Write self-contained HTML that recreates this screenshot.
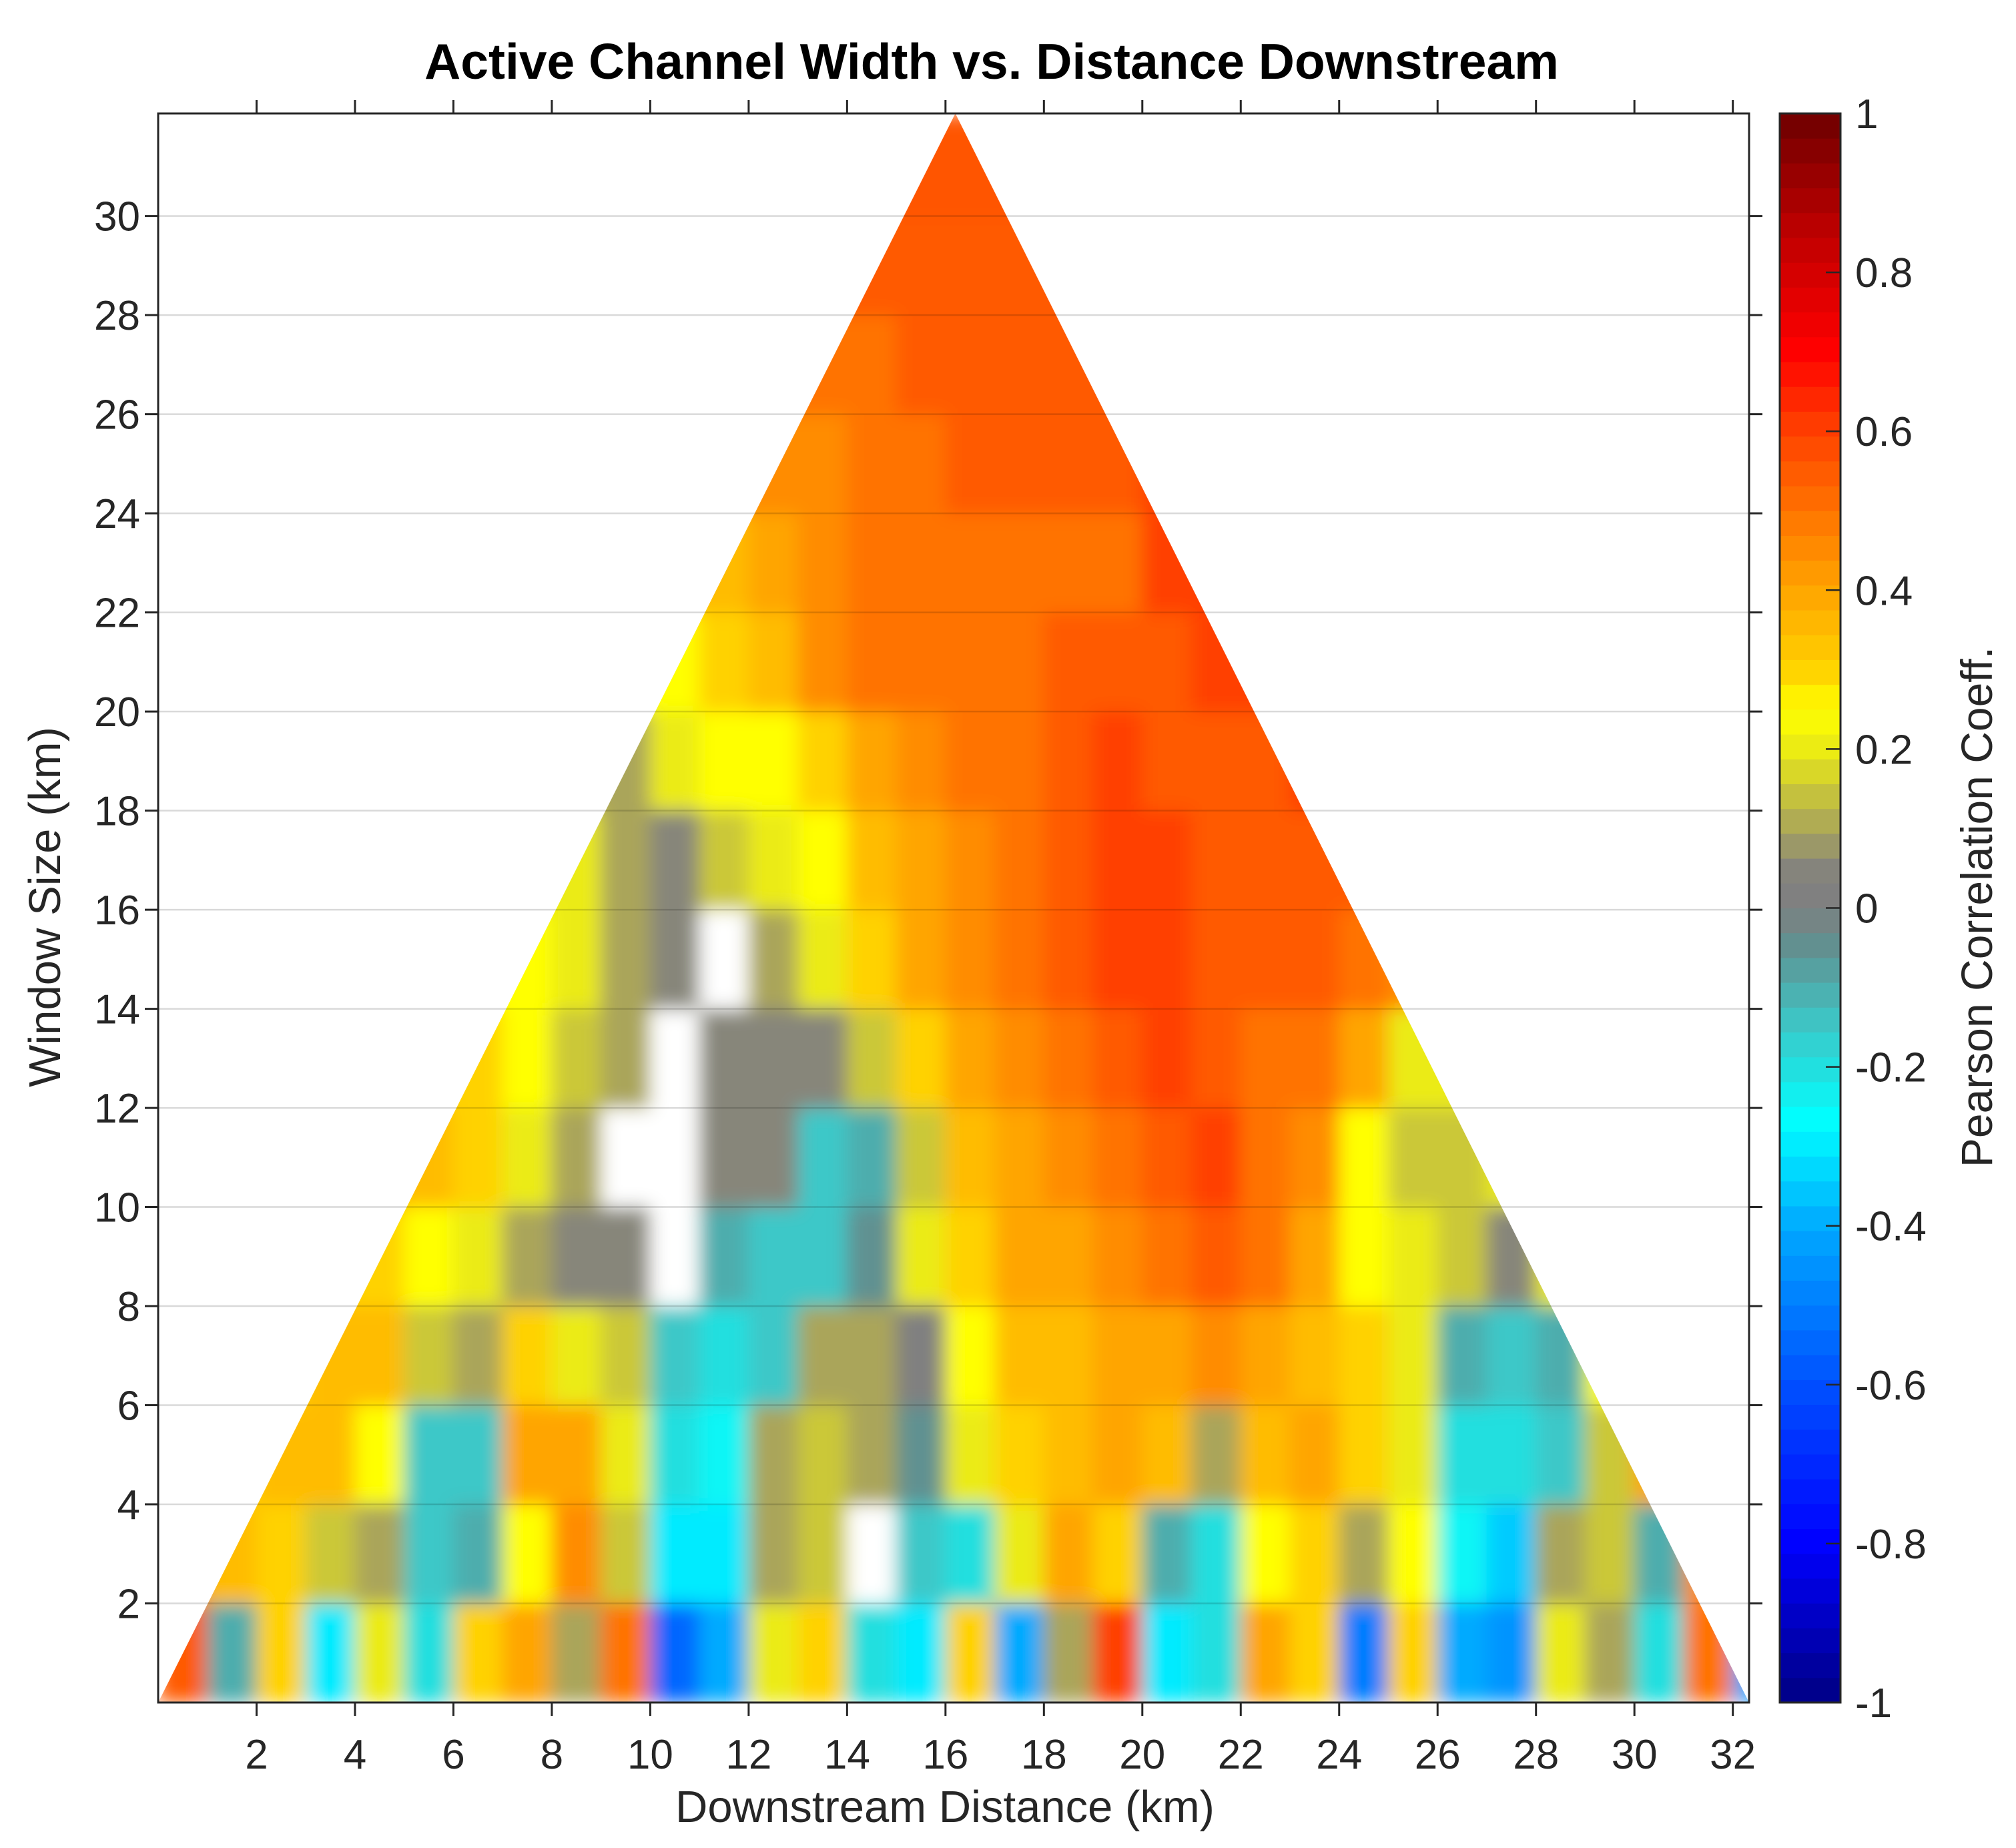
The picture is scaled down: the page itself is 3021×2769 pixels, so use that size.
<!DOCTYPE html>
<html><head><meta charset="utf-8"><style>
html,body{margin:0;padding:0;background:#fff}
svg{display:block}
text{font-family:"Liberation Sans",Arial,sans-serif;fill:#262626}
</style></head><body>
<svg id="chart" width="3021" height="2769" viewBox="0 0 3021 2769" xmlns="http://www.w3.org/2000/svg">
<defs>
<clipPath id="tri"><polygon id="tripoly" points="0,0"/></clipPath>
<filter id="soft" x="-5%" y="-5%" width="110%" height="110%"><feGaussianBlur stdDeviation="14"/></filter>
</defs>
<g id="heat" clip-path="url(#tri)"><g id="cells" filter="url(#soft)"></g></g>
<g id="grid"></g>
<g id="axes"></g>
<g id="cbar"></g>
<text x="1486" y="118" text-anchor="middle" font-size="75" font-weight="bold" style="fill:#000">Active Channel Width vs. Distance Downstream</text>
<text x="1416" y="2730" text-anchor="middle" font-size="67">Downstream Distance (km)</text>
<text transform="translate(90,1359) rotate(-90)" text-anchor="middle" font-size="67">Window Size (km)</text>
<text transform="translate(2985,1359) rotate(-90)" text-anchor="middle" font-size="66">Pearson Correlation Coeff.</text>
</svg>
<script>
const xTicks=[2,4,6,8,10,12,14,16,18,20,22,24,26,28,30,32];
const yTicks=[2,4,6,8,10,12,14,16,18,20,22,24,26,28,30];
const cbTicks=[1,0.8,0.6,0.4,0.2,0,-0.2,-0.4,-0.6,-0.8,-1];
const cbLabels=["1","0.8","0.6","0.4","0.2","0","-0.2","-0.4","-0.6","-0.8","-1"];
const rowBottoms=[0,2,4,6,8,10,12,14,16,18,20,22,24,26,28,30];
const N=null;
const row0=[0.55,-0.1,0.3,-0.3,0.2,-0.2,0.3,0.4,0.1,0.5,-0.55,-0.4,0.2,0.3,-0.2,-0.3,0.3,-0.4,0.1,0.6,-0.3,-0.2,0.4,0.3,-0.5,0.3,-0.4,-0.45,0.2,0.1,-0.2,0.5,-0.4];
const row1=[0.4,0.35,0.3,0.15,0.1,-0.15,-0.1,0.25,0.45,0.15,-0.3,-0.3,0.1,0.15,N,-0.15,-0.2,0.2,0.4,0.3,-0.1,-0.2,0.25,0.3,0.1,0.25,-0.25,-0.35,0.1,0.15,-0.1,0.45,0.5];
const row2=[0.3,0.3,0.35,0.35,0.25,-0.15,-0.15,0.4,0.4,0.2,-0.2,-0.25,0.1,0.15,0.1,-0.05,0.2,0.3,0.35,0.4,0.35,0.1,0.35,0.4,0.3,0.2,-0.2,-0.2,-0.15,0.15,0.4,0.4,0.4];
const row3=[0.3,0.3,0.3,0.35,0.35,0.15,0.1,0.3,0.2,0.15,-0.15,-0.2,-0.15,0.1,0.1,0.0,0.25,0.35,0.35,0.4,0.4,0.45,0.4,0.35,0.3,0.2,-0.1,-0.15,-0.1,0.25,0.3,0.3,0.3];
const row4=[0.3,0.3,0.3,0.3,0.3,0.25,0.2,0.1,0.05,0.05,N,-0.1,-0.15,-0.15,-0.05,0.2,0.3,0.4,0.4,0.45,0.5,0.55,0.5,0.4,0.25,0.2,0.15,0.05,0.2,0.2,0.2,0.2,0.2];
const row5=[0.35,0.35,0.35,0.35,0.35,0.35,0.3,0.2,0.1,N,N,0.05,0.05,-0.15,-0.1,0.15,0.35,0.4,0.45,0.5,0.55,0.6,0.5,0.45,0.25,0.15,0.15,0.2,0.2,0.2,0.2,0.2,0.2];
const row6=[0.3,0.3,0.3,0.3,0.3,0.3,0.3,0.25,0.15,0.1,N,0.05,0.05,0.05,0.15,0.3,0.4,0.45,0.5,0.55,0.6,0.55,0.5,0.5,0.4,0.2,0.2,0.2,0.2,0.2,0.2,0.2,0.2];
const row7=[0.25,0.25,0.25,0.25,0.25,0.25,0.25,0.25,0.2,0.1,0.05,N,0.1,0.2,0.3,0.4,0.45,0.5,0.55,0.6,0.6,0.55,0.55,0.55,0.5,0.45,0.45,0.45,0.45,0.45,0.45,0.45,0.45];
const row8=[0.2,0.2,0.2,0.2,0.2,0.2,0.2,0.2,0.2,0.1,0.05,0.15,0.2,0.25,0.35,0.4,0.45,0.5,0.55,0.6,0.6,0.55,0.55,0.55,0.55,0.55,0.55,0.55,0.55,0.55,0.55,0.55,0.55];
const row9=[0.1,0.1,0.1,0.1,0.1,0.1,0.1,0.1,0.1,0.1,0.2,0.25,0.25,0.3,0.4,0.45,0.5,0.5,0.55,0.6,0.55,0.55,0.55,0.6,0.6,0.6,0.6,0.6,0.6,0.6,0.6,0.6,0.6];
const row10=[0.25,0.25,0.25,0.25,0.25,0.25,0.25,0.25,0.25,0.25,0.25,0.3,0.35,0.45,0.5,0.5,0.5,0.5,0.55,0.55,0.55,0.6,0.6,0.6,0.6,0.6,0.6,0.6,0.6,0.6,0.6,0.6,0.6];
const row11=[0.35,0.35,0.35,0.35,0.35,0.35,0.35,0.35,0.35,0.35,0.35,0.35,0.4,0.45,0.5,0.5,0.5,0.5,0.5,0.5,0.6,0.6,0.6,0.6,0.6,0.6,0.6,0.6,0.6,0.6,0.6,0.6,0.6];
const row12=[0.45,0.45,0.45,0.45,0.45,0.45,0.45,0.45,0.45,0.45,0.45,0.45,0.45,0.45,0.5,0.5,0.55,0.55,0.55,0.55,0.6,0.6,0.6,0.6,0.6,0.6,0.6,0.6,0.6,0.6,0.6,0.6,0.6];
const row13=[0.5,0.5,0.5,0.5,0.5,0.5,0.5,0.5,0.5,0.5,0.5,0.5,0.5,0.5,0.5,0.55,0.55,0.55,0.55,0.55,0.55,0.55,0.55,0.55,0.55,0.55,0.55,0.55,0.55,0.55,0.55,0.55,0.55];
const row14=[0.55,0.55,0.55,0.55,0.55,0.55,0.55,0.55,0.55,0.55,0.55,0.55,0.55,0.55,0.55,0.55,0.55,0.55,0.55,0.55,0.55,0.55,0.55,0.55,0.55,0.55,0.55,0.55,0.55,0.55,0.55,0.55,0.55];
const row15=[0.55,0.55,0.55,0.55,0.55,0.55,0.55,0.55,0.55,0.55,0.55,0.55,0.55,0.55,0.55,0.56,0.56,0.56,0.55,0.55,0.55,0.55,0.55,0.55,0.55,0.55,0.55,0.55,0.55,0.55,0.55,0.55,0.55];
const rows=[row0,row1,row2,row3,row4,row5,row6,row7,row8,row9,row10,row11,row12,row13,row14,row15];

const NS="http://www.w3.org/2000/svg";
const L=237,R=2621,T=170,B=2551;
const XMAX=32.33,YMAX=32.07;
const sx=v=>L+(v/XMAX)*(R-L);
const sy=v=>B-(v/YMAX)*(B-T);
const stops=[[-1,[0,0,130]],[-0.8,[0,0,255]],[-0.6,[0,80,255]],[-0.4,[0,170,255]],[-0.27,[0,255,255]],[-0.15,[60,200,200]],[-0.04,[100,140,140]],[0,[128,128,128]],[0.04,[128,128,128]],[0.1,[170,165,90]],[0.2,[235,235,20]],[0.25,[255,255,0]],[0.3,[255,210,0]],[0.4,[255,165,0]],[0.5,[255,115,0]],[0.6,[255,65,0]],[0.7,[255,0,0]],[0.85,[190,0,0]],[1,[110,0,0]]];
function cmap(v){
  if(v===null)return "#ffffff";
  v=Math.max(-1,Math.min(1,v));
  for(let i=1;i<stops.length;i++){
    if(v<=stops[i][0]){const a=stops[i-1],b=stops[i];const t=(v-a[0])/(b[0]-a[0]);
      const c=a[1].map((x,k)=>Math.round(x+(b[1][k]-x)*t));return `rgb(${c[0]},${c[1]},${c[2]})`;}
  }
  return "rgb(110,0,0)";
}
function mk(tag,attrs,parent){const e=document.createElementNS(NS,tag);for(const k in attrs)e.setAttribute(k,attrs[k]);parent.appendChild(e);return e;}

document.getElementById('tripoly').setAttribute('points',`${sx(0)},${sy(0)} ${sx(16.2)},${sy(YMAX)} ${sx(XMAX)},${sy(0)}`);
const cells=document.getElementById('cells');
rows.forEach((row,ri)=>{
  const y0=rowBottoms[ri],y1=ri+1<rowBottoms.length?rowBottoms[ri+1]:YMAX;
  row.forEach((v,ci)=>{
    const r=mk('rect',{x:sx(ci)-0.5,y:sy(y1)-0.5,width:sx(ci+1)-sx(ci)+1,height:sy(y0)-sy(y1)+1,fill:cmap(v)},cells);
    
    
  });
});

const grid=document.getElementById('grid');
yTicks.forEach(t=>{
  const l=mk('line',{x1:L,x2:R,y1:sy(t),y2:sy(t),stroke:'#000','stroke-opacity':0.15,'stroke-width':2.5},grid);
  
  
});
const axes=document.getElementById('axes');
const box=mk('rect',{x:L,y:T,width:R-L,height:B-T,fill:'none',stroke:'#262626','stroke-width':3},axes);


xTicks.forEach(t=>{
  const x=sx(t);
  mk('line',{x1:x,x2:x,y1:B,y2:B+20,stroke:'#262626','stroke-width':3},axes);
  mk('line',{x1:x,x2:x,y1:T,y2:T-20,stroke:'#262626','stroke-width':3},axes);
  const tx=mk('text',{x:x,y:2650,'text-anchor':'middle','font-size':62},axes);
  tx.textContent=t;
  
  
});
yTicks.forEach(t=>{
  const y=sy(t);
  mk('line',{x1:L,x2:L-20,y1:y,y2:y,stroke:'#262626','stroke-width':3},axes);
  mk('line',{x1:R,x2:R+20,y1:y,y2:y,stroke:'#262626','stroke-width':3},axes);
  const tx=mk('text',{x:210,y:y+22,'text-anchor':'end','font-size':62},axes);
  tx.textContent=t;
  
  
});

const cb=document.getElementById('cbar');
const CL=2667,CR=2758;
const cy=v=>B-((v+1)/2)*(B-T);
const nb=64;
for(let i=0;i<nb;i++){
  const v0=-1+2*i/nb,v1=-1+2*(i+1)/nb;
  const r=mk('rect',{x:CL,y:cy(v1)-0.5,width:CR-CL,height:cy(v0)-cy(v1)+1,fill:cmap((v0+v1)/2)},cb);
  
  
}
mk('rect',{x:CL,y:T,width:CR-CL,height:B-T,fill:'none',stroke:'#262626','stroke-width':3},cb);
cbTicks.forEach((t,i)=>{
  const y=cy(t);
  mk('line',{x1:CR-22,x2:CR,y1:y,y2:y,stroke:'#262626','stroke-width':2.5},cb);
  const tx=mk('text',{x:2780,y:y+22,'font-size':62},cb);
  tx.textContent=cbLabels[i];
  
  
});
</script>
</body></html>
